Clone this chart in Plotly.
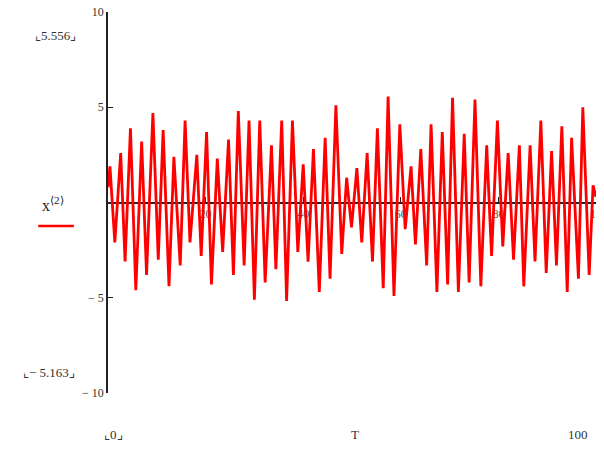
import plotly.graph_objects as go

T = [0.0, 0.4, 1.4, 2.6, 3.5, 4.6, 5.7, 6.9, 7.9, 9.2, 10.3, 11.3, 12.5, 13.5, 14.8, 15.8,
     16.8, 18.2, 19.1, 20.2, 21.2, 22.4, 23.5, 24.7, 25.7, 26.7, 27.9, 28.9, 30.0, 31.1,
     32.2, 33.5, 34.4, 35.6, 36.6, 37.8, 38.9, 40.0, 41.0, 42.1, 43.3, 44.5, 45.5, 46.7,
     47.9, 48.9, 49.9, 51.0, 52.0, 53.1, 54.2, 55.2, 56.4, 57.4, 58.6, 59.8, 60.9, 62.1,
     63.0, 64.1, 65.3, 66.2, 67.4, 68.5, 69.6, 70.6, 71.8, 73.0, 74.0, 75.2, 76.4, 77.6,
     78.6, 79.8, 80.9, 82.0, 83.1, 84.3, 85.2, 86.5, 87.5, 88.7, 89.8, 90.9, 91.9, 93.0,
     94.1, 95.0, 96.4, 97.3, 98.6, 99.4, 100.0]
X2 = [0.8, 1.9, -2.1, 2.6, -3.1, 3.9, -4.6, 3.2, -3.8, 4.7, -3.0, 3.8, -4.4, 2.4, -3.3, 4.3,
      -2.1, 2.5, -2.8, 3.7, -4.3, 2.3, -2.6, 3.3, -3.8, 4.8, -3.3, 4.3, -5.1, 4.3,
      -4.2, 3.0, -3.5, 4.3, -5.163, 4.3, -2.6, 2.0, -3.1, 2.8, -4.7, 3.4, -4.0, 5.1,
      -2.7, 1.3, -1.3, 1.8, -2.1, 2.6, -3.1, 3.9, -4.5, 5.556, -4.9, 4.1, -1.4, 1.9,
      -2.2, 2.8, -3.3, 4.1, -4.7, 3.7, -4.3, 5.5, -4.7, 3.6, -4.2, 5.4, -4.4, 3.0,
      -2.8, 4.3, -2.3, 2.6, -3.0, 3.0, -4.4, 3.0, -3.1, 4.3, -3.7, 2.7, -3.3, 4.0,
      -4.7, 3.4, -4.0, 5.0, -3.8, 0.9, 0.3]

y_ticks = [-10, -5, 5, 10]
y_ticktext = ["\u2212 10", "\u2212 5", "5", "10"]
x_ticks = [20, 40, 60, 80, 100]
x_ticktext = ["20", "40", "60", "80", "10"]

FONT = "Liberation Serif"
RED = "#ff0000"

fig = go.Figure()
fig.add_trace(go.Scatter(x=T, y=X2, mode="lines", line=dict(color=RED, width=2.8),
                         showlegend=False, hoverinfo="skip"))

fig.update_layout(
    width=596, height=441,
    margin=dict(l=100, r=8, t=4, b=56, autoexpand=False),
    paper_bgcolor="white", plot_bgcolor="white",
    font=dict(family=FONT, size=12, color="#333333"),
    xaxis=dict(range=[0, 100], showgrid=False, zeroline=False, automargin=False,
               anchor="free", position=0.5,
               showline=True, linecolor="#222222", linewidth=1.5,
               tickmode="array", tickvals=x_ticks, ticktext=x_ticktext,
               ticks="inside", ticklen=5, tickcolor="#222222",
               ticklabeloverflow="allow",
               tickfont=dict(family=FONT, size=12, color="#555555"),
               layer="below traces"),
    yaxis=dict(range=[-10, 10], showgrid=False, zeroline=False, automargin=False,
               showline=True, linecolor="#222222", linewidth=1.5,
               tickmode="array", tickvals=y_ticks, ticktext=y_ticktext,
               ticks="inside", ticklen=5, tickcolor="#222222",
               ticklabeloverflow="allow",
               tickfont=dict(family=FONT, size=12, color="#333333")),
)

ann = [
    dict(x=-0.108, y=0.939, text="\u231e5.556\u231f", xanchor="center", yanchor="middle"),
    dict(x=-0.12, y=0.055, text="\u231e\u2212 5.163\u231f", xanchor="center", yanchor="middle"),
    dict(x=-0.113, y=0.497, text="x<sup>\u27e82\u27e9</sup>", xanchor="center", yanchor="middle",
         font=dict(family=FONT, size=16, color="#222222")),
    dict(x=0.012, y=-0.11, text="\u231e0\u231f", xanchor="center", yanchor="middle"),
    dict(x=0.506, y=-0.11, text="T", xanchor="center", yanchor="middle"),
    dict(x=0.963, y=-0.11, text="100", xanchor="center", yanchor="middle"),
]
for a in ann:
    a.update(xref="paper", yref="paper", showarrow=False)
    a.setdefault("font", dict(family=FONT, size=13, color="#333333"))
    fig.add_annotation(**a)

fig.add_shape(type="line", xref="paper", yref="paper",
              x0=-0.143, x1=-0.07, y0=0.438, y1=0.438,
              line=dict(color=RED, width=2.5))

fig.write_html("out.html")
